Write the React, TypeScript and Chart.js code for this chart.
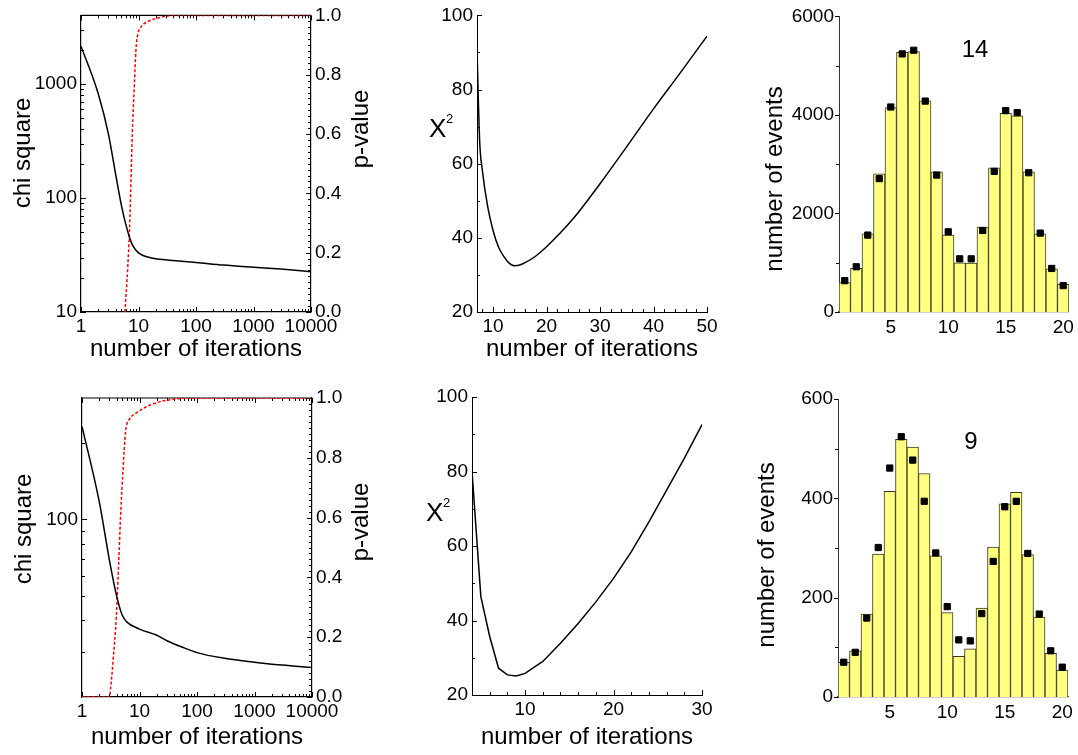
import React, { useEffect, useRef } from 'react';
import { Chart, registerables } from 'chart.js';

Chart.register(...registerables);
Chart.defaults.color = '#000';

const FONT = "'Liberation Sans', Arial, Helvetica, sans-serif";

// ---------------- data ----------------
// top-left: chi square & p-value vs iterations
const iterChiTop = [1, 2, 3, 4, 5, 6, 7, 8, 10, 15, 20, 50, 100, 300, 1000, 3000, 10000];
const chiTop = [2150, 817, 364, 162, 88, 59, 45, 38, 33, 30.2, 29.3, 28, 27.2, 25.8, 24.7, 23.8, 22.6];
const iterPTop = [5.8, 6.5, 7.1, 7.8, 8.5, 9.0, 9.7, 11.3, 14.8, 23.6, 40, 10000];
const pTop = [0, 0.15, 0.32, 0.6, 0.77, 0.88, 0.935, 0.963, 0.98, 0.993, 1, 1];

// bottom-left
const iterChiBottom = [1, 2, 3, 4, 5, 6, 10, 20, 30, 60, 100, 300, 1000, 3000, 10000];
const chiBottom = [232, 117, 69, 50, 42, 39.5, 37, 35, 33.3, 31.2, 29.9, 28.4, 27.4, 26.7, 26.1];
const iterPBottom = [1, 3, 3.15, 3.5, 3.96, 4.35, 4.7, 5.17, 5.75, 6.75, 8.8, 13, 22, 38, 65, 10000];
const pBottom = [0, 0, 0.03, 0.13, 0.27, 0.45, 0.61, 0.76, 0.89, 0.93, 0.95, 0.97, 0.987, 0.995, 1, 1];

// middle: X^2 vs number of iterations
const iterScanTop = [7, 7.5, 8, 9, 10, 11, 12, 13, 14, 15, 16, 18, 20, 25, 30, 35, 40, 45, 50];
const x2Top = [90.5, 66, 58.2, 48.4, 42, 37.6, 35, 33.2, 32.5, 32.7, 33.3, 35.1, 37.6, 45.2, 54.6, 64.6, 74.8, 84.5, 94.4];
const iterScanBottom = [4, 5, 6, 7, 8, 9, 10, 12, 14, 16, 18, 20, 22, 24, 26, 28, 30];
const x2Bottom = [80, 46.4, 35.7, 27.2, 25.4, 25.1, 25.8, 29, 33.9, 39.2, 45, 51.3, 58.4, 66.5, 75, 83.5, 92.6];

// right: histograms
const bins = ['1', '2', '3', '4', '5', '6', '7', '8', '9', '10', '11', '12', '13', '14', '15', '16', '17', '18', '19', '20'];
const histTopBars = [596, 884, 1588, 2807, 4147, 5273, 5286, 4288, 2847, 1561, 998, 992, 1722, 2928, 4033, 3980, 2847, 1588, 878, 563];
const histTopPoints = [636, 918, 1561, 2707, 4161, 5239, 5313, 4281, 2780, 1628, 1079, 1079, 1655, 2854, 4087, 4047, 2827, 1601, 884, 536];
const histBottomBars = [70, 93, 167, 288, 414, 519, 503, 450, 284, 170, 82, 97, 179, 302, 389, 412, 287, 161, 88, 54];
const histBottomPoints = [70, 90, 159, 301, 461, 524, 477, 394, 290, 182, 115, 113, 168, 273, 383, 394, 289, 167, 93, 60];
const histTopLabel = '14';
const histBottomLabel = '9';

// tick values
const logXTicks = [1, 10, 100, 1000, 10000];
const chiTopTicks = [10, 100, 1000];
const chiBottomTicks = [100];
const pTicks = [0, 0.2, 0.4, 0.6, 0.8, 1.0];
const scanTopXTicks = [10, 20, 30, 40, 50];
const scanBottomXTicks = [10, 20, 30];
const scanYTicks = [20, 40, 60, 80, 100];
const histTopYTicks = [0, 2000, 4000, 6000];
const histBottomYTicks = [0, 200, 400, 600];
const histXTickLabels = ['5', '10', '15', '20'];

// ---------------- helpers ----------------
function logMinor(min: number, max: number) {
  const out: number[] = [];
  for (let d = Math.pow(10, Math.floor(Math.log10(min))); d < max; d *= 10) {
    for (let k = 2; k <= 9; k++) {
      const v = k * d;
      if (v > min && v < max) out.push(v);
    }
  }
  return out;
}
function linMinor(min: number, max: number, step: number, majors: number[]) {
  const out: number[] = [];
  for (let i = Math.ceil(min / step - 1e-9); i * step <= max + 1e-9; i++) {
    const v = +(i * step).toFixed(6);
    if (!majors.some((m) => Math.abs(m - v) < 1e-6) && v > min && v < max) out.push(v);
  }
  return out;
}
const pts = (xs: number[], ys: number[]) => xs.map((x, i) => ({ x, y: ys[i] }));
const setTicks = (vals: number[]) => (scale: any) => {
  scale.ticks = vals.map((v) => ({ value: v }));
};
const fixW = (w: number) => (scale: any) => {
  scale.width = w;
};
const fixH = (h: number) => (scale: any) => {
  scale.height = h;
};

type Txt = { text: string; x: number; y: number; size: number; rot?: number; align?: CanvasTextAlign };

const decor = {
  id: 'decor',
  beforeDatasetsDraw(chart: any, _a: any, opts: any) {
    const { ctx, chartArea: ca } = chart;
    ctx.save();
    ctx.strokeStyle = '#000';
    if (opts.boxTop) {
      ctx.lineWidth = opts.boxTop;
      ctx.beginPath();
      ctx.moveTo(ca.left, ca.top);
      ctx.lineTo(ca.right, ca.top);
      ctx.stroke();
    }
    for (const t of opts.ticks || []) {
      const s = chart.scales[t.axis];
      const sign = t.dir === 'in' ? 1 : -1;
      ctx.lineWidth = 1;
      ctx.beginPath();
      for (const v of t.values) {
        const p = Math.round(s.getPixelForValue(v)) + 0.5;
        if (s.isHorizontal()) {
          ctx.moveTo(p, ca.bottom);
          ctx.lineTo(p, ca.bottom - sign * t.len);
          if (t.mirror) {
            ctx.moveTo(p, ca.top);
            ctx.lineTo(p, ca.top + sign * t.len);
          }
        } else if (s.position === 'left') {
          ctx.moveTo(ca.left, p);
          ctx.lineTo(ca.left + sign * t.len, p);
        } else {
          ctx.moveTo(ca.right, p);
          ctx.lineTo(ca.right - sign * t.len, p);
        }
      }
      ctx.stroke();
    }
    ctx.restore();
  },
  afterDraw(chart: any, _a: any, opts: any) {
    const { ctx } = chart;
    for (const tx of (opts.texts || []) as Txt[]) {
      ctx.save();
      ctx.fillStyle = '#000';
      ctx.font = `${tx.size}px ${FONT}`;
      ctx.textAlign = tx.align || 'center';
      ctx.textBaseline = 'alphabetic';
      ctx.translate(tx.x, tx.y);
      if (tx.rot) ctx.rotate((tx.rot * Math.PI) / 180);
      ctx.fillText(tx.text, 0, 0);
      ctx.restore();
    }
  },
};

const tickFont = { family: FONT, size: 19 };
const titleFont = { family: FONT, size: 24 };
const noGrid = { display: false, drawTicks: false };
const border = { display: true, color: '#000', width: 1.2 };

interface PanelDef {
  left: number;
  top: number;
  w: number;
  h: number;
  make: () => any;
}

function shiftTexts(texts: Txt[], left: number, top: number): Txt[] {
  return texts.map((t) => ({ ...t, x: t.x - left, y: t.y - top }));
}

function basePlugins(texts: Txt[], ticks: any[], boxTop = 0) {
  return {
    legend: { display: false },
    tooltip: { enabled: false },
    decor: { texts, ticks, boxTop },
  };
}

// ---- chi/p panel ----
function chiPanel(o: {
  left: number; top: number; w: number; h: number;
  leftW: number; rightW: number; xH: number; padTop: number; titlePad: number;
  iterChi: number[]; chi: number[]; iterP: number[]; p: number[];
  yMin: number; yMax: number; yTicks: number[]; texts: Txt[];
}): PanelDef {
  return {
    left: o.left, top: o.top, w: o.w, h: o.h,
    make: () => ({
      type: 'line',
      data: {
        datasets: [
          {
            data: pts(o.iterChi, o.chi), yAxisID: 'y', borderColor: '#000', borderWidth: 1.5,
            pointRadius: 0, cubicInterpolationMode: 'monotone',
          },
          {
            data: pts(o.iterP, o.p), yAxisID: 'y1', borderColor: '#ff0000', borderWidth: 1.5,
            borderDash: [3, 2], pointRadius: 0, cubicInterpolationMode: 'monotone',
          },
        ],
      },
      options: {
        animation: false, responsive: false, devicePixelRatio: 1,
        layout: { padding: { top: o.padTop, left: 0, right: 0, bottom: 0 } },
        scales: {
          x: {
            type: 'logarithmic', position: 'bottom', min: 1, max: 10000,
            afterBuildTicks: setTicks(logXTicks), afterFit: fixH(o.xH),
            grid: noGrid, border,
            ticks: { font: tickFont, color: '#000', padding: 3, autoSkip: false, maxRotation: 0, callback: (v: any) => String(v) },
            title: { display: true, text: 'number of iterations', color: '#000', font: titleFont, padding: { top: 0, bottom: o.titlePad } },
          },
          y: {
            type: 'logarithmic', position: 'left', min: o.yMin, max: o.yMax,
            afterBuildTicks: setTicks(o.yTicks), afterFit: fixW(o.leftW),
            grid: noGrid, border,
            ticks: { font: tickFont, color: '#000', padding: 4, autoSkip: false, callback: (v: any) => String(v) },
          },
          y1: {
            type: 'linear', position: 'right', min: 0, max: 1,
            afterBuildTicks: setTicks(pTicks), afterFit: fixW(o.rightW),
            grid: noGrid, border,
            ticks: { font: tickFont, color: '#000', padding: 4, autoSkip: false, callback: (v: any) => Number(v).toFixed(1) },
          },
        },
        plugins: basePlugins(
          shiftTexts(o.texts, o.left, o.top),
          [
            { axis: 'x', values: logXTicks, len: 5, dir: 'in', mirror: true },
            { axis: 'x', values: logMinor(1, 10000), len: 3, dir: 'in', mirror: true },
            { axis: 'y', values: o.yTicks, len: 5, dir: 'in' },
            { axis: 'y', values: logMinor(o.yMin, o.yMax), len: 3, dir: 'in' },
            { axis: 'y1', values: pTicks, len: 5, dir: 'in' },
            { axis: 'y1', values: linMinor(0, 1, 0.02, pTicks), len: 3, dir: 'in' },
          ],
          1.2
        ),
      },
      plugins: [decor],
    }),
  };
}

// ---- X^2 scan panel ----
function scanPanel(o: {
  left: number; top: number; w: number; h: number;
  leftW: number; xH: number; padTop: number; padRight: number; titlePad: number;
  iter: number[]; x2: number[]; xMin: number; xMax: number; xTicks: number[]; texts: Txt[];
  smooth: boolean;
}): PanelDef {
  return {
    left: o.left, top: o.top, w: o.w, h: o.h,
    make: () => ({
      type: 'line',
      data: {
        datasets: [
          {
            data: pts(o.iter, o.x2), borderColor: '#000', borderWidth: 1.5, pointRadius: 0,
            cubicInterpolationMode: o.smooth ? 'monotone' : 'default', tension: 0,
          },
        ],
      },
      options: {
        animation: false, responsive: false, devicePixelRatio: 1,
        layout: { padding: { top: o.padTop, left: 0, right: o.padRight, bottom: 0 } },
        scales: {
          x: {
            type: 'linear', position: 'bottom', min: o.xMin, max: o.xMax,
            afterBuildTicks: setTicks(o.xTicks), afterFit: fixH(o.xH),
            grid: noGrid, border: { ...border, width: 1 },
            ticks: { font: tickFont, color: '#000', padding: 3, autoSkip: false, maxRotation: 0, callback: (v: any) => String(v) },
            title: { display: true, text: 'number of iterations', color: '#000', font: titleFont, padding: { top: 0, bottom: o.titlePad } },
          },
          y: {
            type: 'linear', position: 'left', min: 20, max: 100,
            afterBuildTicks: setTicks(scanYTicks), afterFit: fixW(o.leftW),
            grid: noGrid, border: { ...border, width: 1 },
            ticks: { font: tickFont, color: '#000', padding: 4, autoSkip: false, callback: (v: any) => String(v) },
          },
        },
        plugins: basePlugins(shiftTexts(o.texts, o.left, o.top), [
          { axis: 'x', values: o.xTicks, len: 5, dir: 'in' },
          { axis: 'x', values: linMinor(o.xMin, o.xMax, 2, o.xTicks), len: 3, dir: 'in' },
          { axis: 'y', values: scanYTicks, len: 5, dir: 'in' },
          { axis: 'y', values: linMinor(20, 100, 10, scanYTicks), len: 3, dir: 'in' },
        ]),
      },
      plugins: [decor],
    }),
  };
}

// ---- histogram panel ----
function histPanel(o: {
  left: number; top: number; w: number; h: number;
  leftW: number; xH: number; padTop: number; padRight: number;
  bars: number[]; points: number[]; yMax: number; yTicks: number[]; minorStep: number; texts: Txt[];
}): PanelDef {
  return {
    left: o.left, top: o.top, w: o.w, h: o.h,
    make: () => ({
      type: 'bar',
      data: {
        labels: bins,
        datasets: [
          {
            type: 'line', data: o.points, showLine: false, pointStyle: 'rect', pointRadius: 4.4,
            pointBackgroundColor: '#000', pointBorderColor: '#000', pointBorderWidth: 1, order: 1,
          },
          {
            type: 'bar', data: o.bars, backgroundColor: '#ffff80', borderColor: '#3a3a20', borderWidth: 1,
            barPercentage: 1, categoryPercentage: 1, order: 2,
          },
        ],
      },
      options: {
        animation: false, responsive: false, devicePixelRatio: 1,
        layout: { padding: { top: o.padTop, left: 0, right: o.padRight, bottom: 0 } },
        scales: {
          x: {
            type: 'category', position: 'bottom', offset: true,
            afterBuildTicks: setTicks(histXTickLabels.map((l) => bins.indexOf(l))), afterFit: fixH(o.xH),
            grid: { display: false, drawTicks: false, offset: true }, border: { ...border, color: '#444' },
            ticks: { font: tickFont, color: '#000', padding: 4, autoSkip: false, maxRotation: 0 },
          },
          y: {
            type: 'linear', position: 'left', min: 0, max: o.yMax,
            afterBuildTicks: setTicks(o.yTicks), afterFit: fixW(o.leftW),
            grid: noGrid, border: { ...border, width: 1, color: '#333' },
            ticks: { font: tickFont, color: '#000', padding: 5, autoSkip: false, callback: (v: any) => String(v) },
          },
        },
        plugins: basePlugins(shiftTexts(o.texts, o.left, o.top), [
          { axis: 'y', values: o.yTicks, len: 4, dir: 'out' },
          { axis: 'y', values: linMinor(0, o.yMax, o.minorStep, o.yTicks), len: 3, dir: 'out' },
        ]),
      },
      plugins: [decor],
    }),
  };
}

// ---------------- layout ----------------
const panels: PanelDef[] = [
  chiPanel({
    left: 0, top: 0, w: 390, h: 370, leftW: 81, rightW: 79, xH: 58, padTop: 14, titlePad: 5.9,
    iterChi: iterChiTop, chi: chiTop, iterP: iterPTop, p: pTop, yMin: 10, yMax: 4000, yTicks: chiTopTicks,
    texts: [
      { text: 'chi square', x: 30, y: 153, size: 24, rot: -90 },
      { text: 'p-value', x: 368, y: 129, size: 24, rot: -90 },
    ],
  }),
  scanPanel({
    left: 390, top: 0, w: 345, h: 370, leftW: 87, xH: 58, padTop: 14, padRight: 28, titlePad: 5.9,
    iter: iterScanTop, x2: x2Top, xMin: 7, xMax: 50, xTicks: scanTopXTicks, smooth: true,
    texts: [
      { text: 'X', x: 429, y: 137, size: 26, align: 'left' },
      { text: '2', x: 446, y: 123, size: 13, align: 'left' },
    ],
  }),
  histPanel({
    left: 735, top: 0, w: 343, h: 370, leftW: 104, xH: 58, padTop: 14, padRight: 9,
    bars: histTopBars, points: histTopPoints, yMax: 6000, yTicks: histTopYTicks, minorStep: 1000,
    texts: [
      { text: 'number of events', x: 781.5, y: 179, size: 24, rot: -90 },
      { text: histTopLabel, x: 975, y: 57, size: 24 },
    ],
  }),
  chiPanel({
    left: 0, top: 375, w: 390, h: 380, leftW: 82, rightW: 78, xH: 58, padTop: 23, titlePad: 2.9,
    iterChi: iterChiBottom, chi: chiBottom, iterP: iterPBottom, p: pBottom, yMin: 20, yMax: 300, yTicks: chiBottomTicks,
    texts: [
      { text: 'chi square', x: 31, y: 529, size: 24, rot: -90 },
      { text: 'p-value', x: 368, y: 522, size: 24, rot: -90 },
    ],
  }),
  scanPanel({
    left: 390, top: 375, w: 345, h: 380, leftW: 82, xH: 60, padTop: 22, padRight: 33, titlePad: 2.9,
    iter: iterScanBottom, x2: x2Bottom, xMin: 4, xMax: 30, xTicks: scanBottomXTicks, smooth: false,
    texts: [
      { text: 'X', x: 426, y: 521, size: 26, align: 'left' },
      { text: '2', x: 443, y: 507, size: 13, align: 'left' },
    ],
  }),
  histPanel({
    left: 735, top: 375, w: 343, h: 380, leftW: 103, xH: 58, padTop: 24, padRight: 10,
    bars: histBottomBars, points: histBottomPoints, yMax: 600, yTicks: histBottomYTicks, minorStep: 100,
    texts: [
      { text: 'number of events', x: 774, y: 555, size: 24, rot: -90 },
      { text: histBottomLabel, x: 971, y: 449, size: 24 },
    ],
  }),
];

function Panel({ def }: { def: PanelDef }) {
  const ref = useRef<HTMLCanvasElement | null>(null);
  useEffect(() => {
    if (!ref.current) return;
    const chart = new Chart(ref.current, def.make());
    return () => chart.destroy();
  }, [def]);
  return (
    <canvas
      ref={ref}
      width={def.w}
      height={def.h}
      style={{ position: 'absolute', left: def.left, top: def.top, width: def.w, height: def.h }}
    />
  );
}

export default function App() {
  return (
    <div style={{ position: 'absolute', left: 0, top: 0, width: 1078, height: 755, background: '#fff', overflow: 'hidden' }}>
      {panels.map((p, i) => (
        <Panel key={i} def={p} />
      ))}
    </div>
  );
}
